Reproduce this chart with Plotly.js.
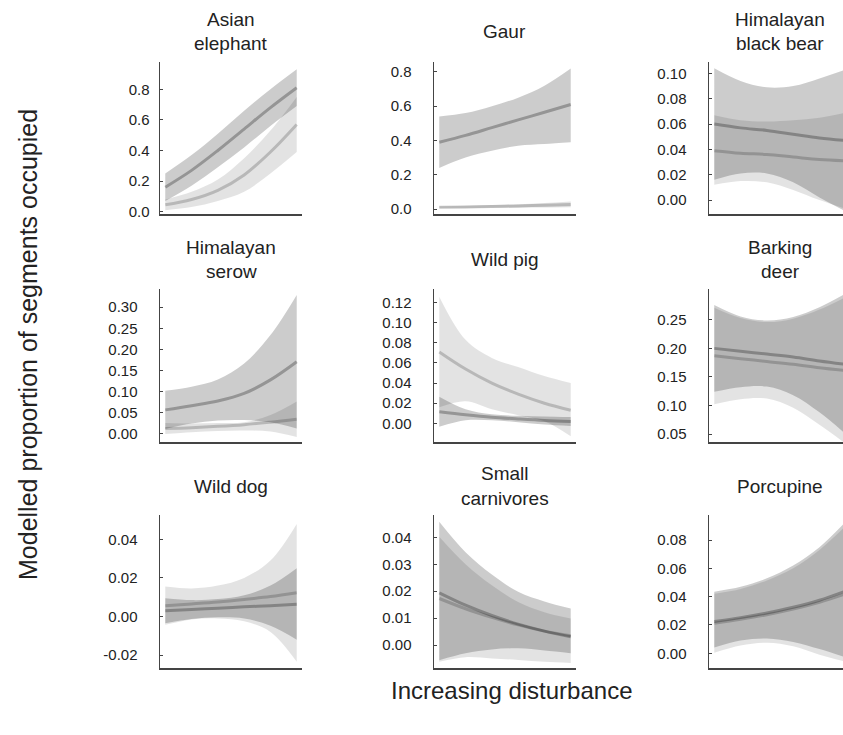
<!DOCTYPE html>
<html><head><meta charset="utf-8">
<script src="https://cdn.plot.ly/plotly-3.0.1.min.js"></script>
<style>html,body{margin:0;padding:0;background:#fff}#chart{width:843px;height:735px}</style>
</head><body><div id="chart"></div>
<script>
// x positions (scaled disturbance, 0 = low, 1 = high)
const disturbance = [0, 0.2, 0.4, 0.6, 0.8, 1];

const speciesTitles = ["Asian<br>elephant", "Gaur", "Himalayan<br>black bear",
  "Himalayan<br>serow", "Wild pig", "Barking<br>deer",
  "Wild dog", "Small<br>carnivores", "Porcupine"];

// Asian elephant
const elephantDarkMean = [0.16, 0.27, 0.40, 0.54, 0.68, 0.81];
const elephantDarkLo   = [0.07, 0.17, 0.29, 0.42, 0.56, 0.69];
const elephantDarkHi   = [0.25, 0.37, 0.51, 0.66, 0.80, 0.93];
const elephantLightMean = [0.045, 0.08, 0.14, 0.24, 0.39, 0.57];
const elephantLightLo   = [0.01, 0.03, 0.07, 0.13, 0.25, 0.39];
const elephantLightHi   = [0.08, 0.13, 0.21, 0.35, 0.53, 0.75];
const elephantTicks = [0, 0.2, 0.4, 0.6, 0.8];
const elephantTickText = ["0.0", "0.2", "0.4", "0.6", "0.8"];

// Gaur
const gaurDarkMean = [0.39, 0.43, 0.475, 0.52, 0.565, 0.61];
const gaurDarkLo   = [0.24, 0.30, 0.34, 0.37, 0.38, 0.39];
const gaurDarkHi   = [0.54, 0.56, 0.60, 0.65, 0.72, 0.82];
const gaurLightMean = [0.010, 0.012, 0.015, 0.018, 0.022, 0.027];
const gaurLightLo   = [0.004, 0.005, 0.007, 0.008, 0.009, 0.010];
const gaurLightHi   = [0.016, 0.019, 0.023, 0.028, 0.035, 0.044];
const gaurTicks = [0, 0.2, 0.4, 0.6, 0.8];
const gaurTickText = ["0.0", "0.2", "0.4", "0.6", "0.8"];

// Himalayan black bear
const bearDarkMean = [0.060, 0.057, 0.055, 0.052, 0.049, 0.047];
const bearDarkLo   = [0.016, 0.021, 0.021, 0.014, 0.002, -0.009];
const bearDarkHi   = [0.104, 0.094, 0.089, 0.090, 0.096, 0.103];
const bearLightMean = [0.039, 0.037, 0.036, 0.034, 0.032, 0.031];
const bearLightLo   = [0.012, 0.015, 0.014, 0.008, 0.000, -0.007];
const bearLightHi   = [0.067, 0.063, 0.062, 0.063, 0.065, 0.069];
const bearTicks = [0, 0.02, 0.04, 0.06, 0.08, 0.10];
const bearTickText = ["0.00", "0.02", "0.04", "0.06", "0.08", "0.10"];

// Himalayan serow
const serowDarkMean = [0.057, 0.067, 0.078, 0.096, 0.128, 0.171];
const serowDarkLo   = [0.012, 0.025, 0.032, 0.033, 0.028, 0.013];
const serowDarkHi   = [0.102, 0.112, 0.129, 0.167, 0.234, 0.329];
const serowLightMean = [0.013, 0.015, 0.018, 0.022, 0.028, 0.035];
const serowLightLo   = [0.000, 0.004, 0.007, 0.008, 0.006, -0.007];
const serowLightHi   = [0.026, 0.025, 0.026, 0.028, 0.045, 0.077];
const serowTicks = [0, 0.05, 0.10, 0.15, 0.20, 0.25, 0.30];
const serowTickText = ["0.00", "0.05", "0.10", "0.15", "0.20", "0.25", "0.30"];

// Wild pig
const pigDarkMean = [0.0115, 0.0085, 0.0060, 0.0043, 0.0028, 0.0018];
const pigDarkLo   = [-0.0035, 0.0030, 0.0030, 0.0011, -0.0012, -0.0026];
const pigDarkHi   = [0.0265, 0.0140, 0.0090, 0.0075, 0.0068, 0.0062];
const pigLightMean = [0.071, 0.054, 0.040, 0.029, 0.020, 0.013];
const pigLightLo   = [0.016, 0.022, 0.014, 0.008, 0.002, -0.013];
const pigLightHi   = [0.126, 0.083, 0.065, 0.056, 0.047, 0.040];
const pigTicks = [0, 0.02, 0.04, 0.06, 0.08, 0.10, 0.12];
const pigTickText = ["0.00", "0.02", "0.04", "0.06", "0.08", "0.10", "0.12"];

// Barking deer
const deerDarkMean = [0.200, 0.195, 0.190, 0.185, 0.178, 0.172];
const deerDarkLo   = [0.124, 0.132, 0.133, 0.118, 0.088, 0.050];
const deerDarkHi   = [0.276, 0.256, 0.249, 0.255, 0.272, 0.296];
const deerLightMean = [0.187, 0.182, 0.177, 0.172, 0.166, 0.161];
const deerLightLo   = [0.102, 0.111, 0.112, 0.096, 0.066, 0.033];
const deerLightHi   = [0.271, 0.253, 0.246, 0.252, 0.268, 0.290];
const deerTicks = [0.05, 0.10, 0.15, 0.20, 0.25];
const deerTickText = ["0.05", "0.10", "0.15", "0.20", "0.25"];

// Wild dog
const dogDarkMean = [0.0030, 0.0036, 0.0043, 0.0050, 0.0056, 0.0063];
const dogDarkLo   = [-0.0035, -0.0013, -0.0004, -0.0010, -0.0048, -0.0120];
const dogDarkHi   = [0.0095, 0.0085, 0.0090, 0.0110, 0.0160, 0.0250];
const dogLightMean = [0.0056, 0.0065, 0.0075, 0.0088, 0.0103, 0.0123];
const dogLightLo   = [-0.0043, -0.0015, -0.0010, -0.0025, -0.0080, -0.0235];
const dogLightHi   = [0.0155, 0.0145, 0.0160, 0.0200, 0.0290, 0.0480];
const dogTicks = [-0.02, 0, 0.02, 0.04];
const dogTickText = ["-0.02", "0.00", "0.02", "0.04"];

// Small carnivores
const carnDarkMean = [0.0194, 0.0148, 0.0110, 0.0078, 0.0052, 0.0031];
const carnDarkLo   = [-0.0056, -0.0030, -0.0016, -0.0012, -0.0020, -0.0030];
const carnDarkHi   = [0.0458, 0.0345, 0.0262, 0.0198, 0.0162, 0.0136];
const carnLightMean = [0.0173, 0.0135, 0.0103, 0.0075, 0.0052, 0.0035];
const carnLightLo   = [-0.0062, -0.0045, -0.0050, -0.0055, -0.0062, -0.0066];
const carnLightHi   = [0.0402, 0.0300, 0.0222, 0.0160, 0.0122, 0.0099];
const carnTicks = [0, 0.01, 0.02, 0.03, 0.04];
const carnTickText = ["0.00", "0.01", "0.02", "0.03", "0.04"];

// Porcupine
const porcDarkMean = [0.0224, 0.0252, 0.0285, 0.0325, 0.0375, 0.0440];
const porcDarkLo   = [0.0040, 0.0090, 0.0105, 0.0080, 0.0030, -0.0030];
const porcDarkHi   = [0.0435, 0.0470, 0.0530, 0.0620, 0.0750, 0.0930];
const porcLightMean = [0.0212, 0.0240, 0.0272, 0.0312, 0.0360, 0.0420];
const porcLightLo   = [0.0004, 0.0055, 0.0075, 0.0050, -0.0010, -0.0060];
const porcLightHi   = [0.0420, 0.0455, 0.0515, 0.0600, 0.0730, 0.0900];
const porcTicks = [0, 0.02, 0.04, 0.06, 0.08];
const porcTickText = ["0.00", "0.02", "0.04", "0.06", "0.08"];

const yAxisTitle = "Modelled proportion of segments occupied";
const xAxisTitle = "Increasing disturbance";

const panelData = [
  [elephantDarkMean, elephantDarkLo, elephantDarkHi, elephantLightMean, elephantLightLo, elephantLightHi, elephantTicks, elephantTickText],
  [gaurDarkMean, gaurDarkLo, gaurDarkHi, gaurLightMean, gaurLightLo, gaurLightHi, gaurTicks, gaurTickText],
  [bearDarkMean, bearDarkLo, bearDarkHi, bearLightMean, bearLightLo, bearLightHi, bearTicks, bearTickText],
  [serowDarkMean, serowDarkLo, serowDarkHi, serowLightMean, serowLightLo, serowLightHi, serowTicks, serowTickText],
  [pigDarkMean, pigDarkLo, pigDarkHi, pigLightMean, pigLightLo, pigLightHi, pigTicks, pigTickText],
  [deerDarkMean, deerDarkLo, deerDarkHi, deerLightMean, deerLightLo, deerLightHi, deerTicks, deerTickText],
  [dogDarkMean, dogDarkLo, dogDarkHi, dogLightMean, dogLightLo, dogLightHi, dogTicks, dogTickText],
  [carnDarkMean, carnDarkLo, carnDarkHi, carnLightMean, carnLightLo, carnLightHi, carnTicks, carnTickText],
  [porcDarkMean, porcDarkLo, porcDarkHi, porcLightMean, porcLightLo, porcLightHi, porcTicks, porcTickText]
];

// ---- layout geometry (pixels) ----
const W = 843, H = 735;
const colLeft = [160, 434, 709];
const colWidth = 142;
const rowTop = [62, 289, 515];
const rowBottom = [214, 442, 668];
const titleMid = [31, 260, 486];
const yRanges = [[-0.015, 0.978], [-0.029, 0.858], [-0.011, 0.109],
                 [-0.019, 0.343], [-0.0186, 0.1336], [0.036, 0.304],
                 [-0.0267, 0.0526], [-0.0085, 0.0483], [-0.0104, 0.0977]];
const labelStandoff = [6, 18, 18, 18, 18, 18, 18, 18, 18];

const FONT = "Liberation Sans, Arial, Helvetica, sans-serif";
const darkFill = "rgba(0,0,0,0.20)";
const lightFill = "rgba(0,0,0,0.11)";
const darkLine = "rgba(0,0,0,0.27)";
const lightLine = "rgba(0,0,0,0.19)";
const axisColor = "#444";

const traces = [];
const layout = {
  width: W, height: H,
  margin: {l: 0, r: 0, t: 0, b: 0},
  paper_bgcolor: "#fff", plot_bgcolor: "rgba(0,0,0,0)",
  showlegend: false, hovermode: false,
  font: {family: FONT, color: "#222"},
  annotations: []
};

panelData.forEach((p, i) => {
  const [dm, dl, dh, lm, ll, lh, tv, tt] = p;
  const n = i + 1;
  const xa = "x" + n, ya = "y" + n;
  const common = {x: disturbance, xaxis: xa, yaxis: ya, mode: "lines", hoverinfo: "skip", showlegend: false};
  traces.push(Object.assign({}, common, {y: ll, line: {width: 0, shape: "spline", color: "rgba(0,0,0,0)"}}));
  traces.push(Object.assign({}, common, {y: lh, fill: "tonexty", fillcolor: lightFill, line: {width: 0, shape: "spline", color: "rgba(0,0,0,0)"}}));
  traces.push(Object.assign({}, common, {y: dl, line: {width: 0, shape: "spline", color: "rgba(0,0,0,0)"}}));
  traces.push(Object.assign({}, common, {y: dh, fill: "tonexty", fillcolor: darkFill, line: {width: 0, shape: "spline", color: "rgba(0,0,0,0)"}}));
  traces.push(Object.assign({}, common, {y: lm, line: {width: 3, shape: "spline", color: lightLine}}));
  traces.push(Object.assign({}, common, {y: dm, line: {width: 3, shape: "spline", color: darkLine}}));

  const r = Math.floor(i / 3), c = i % 3;
  const left = colLeft[c];
  let right = left + colWidth;
  let xr = [-0.04, 1.04];
  if (right > W) {
    xr = [-0.04, -0.04 + 1.08 * (W - left) / colWidth];
    right = W;
  }
  layout["xaxis" + n] = {
    domain: [left / W, right / W], range: xr, anchor: ya,
    showline: true, linecolor: axisColor, linewidth: 1.5,
    showticklabels: false, ticks: "", showgrid: false, zeroline: false, fixedrange: true
  };
  layout["yaxis" + n] = {
    domain: [1 - rowBottom[r] / H, 1 - rowTop[r] / H], range: yRanges[i], anchor: xa,
    showline: true, linecolor: axisColor, linewidth: 1.5,
    tickmode: "array", tickvals: tv, ticktext: tt,
    ticks: "inside", ticklen: 3, tickwidth: 1, tickcolor: axisColor,
    ticklabelstandoff: labelStandoff[i],
    tickfont: {family: FONT, size: 15, color: "#222"},
    showgrid: false, zeroline: false, fixedrange: true
  };
  const lines = speciesTitles[i].split("<br>");
  const cx = (left + colWidth / 2) / W;
  const spacing = 24;
  lines.forEach((t, k) => {
    const cy = titleMid[r] + (k - (lines.length - 1) / 2) * spacing;
    layout.annotations.push({
      text: t, xref: "paper", yref: "paper", x: cx, y: 1 - cy / H,
      xanchor: "center", yanchor: "middle", showarrow: false,
      font: {family: FONT, size: 19, color: "#222"}
    });
  });
});

layout.annotations.push({
  text: yAxisTitle, xref: "paper", yref: "paper", x: 28 / W, y: 1 - 345 / H,
  xanchor: "center", yanchor: "middle", showarrow: false, textangle: -90,
  font: {family: FONT, size: 25, color: "#222"}
});
layout.annotations.push({
  text: xAxisTitle, xref: "paper", yref: "paper", x: 511 / W, y: 1 - 690 / H,
  xanchor: "center", yanchor: "middle", showarrow: false,
  font: {family: FONT, size: 24, color: "#222"}
});

Plotly.newPlot("chart", traces, layout, {staticPlot: true, displayModeBar: false});
</script>
</body></html>
